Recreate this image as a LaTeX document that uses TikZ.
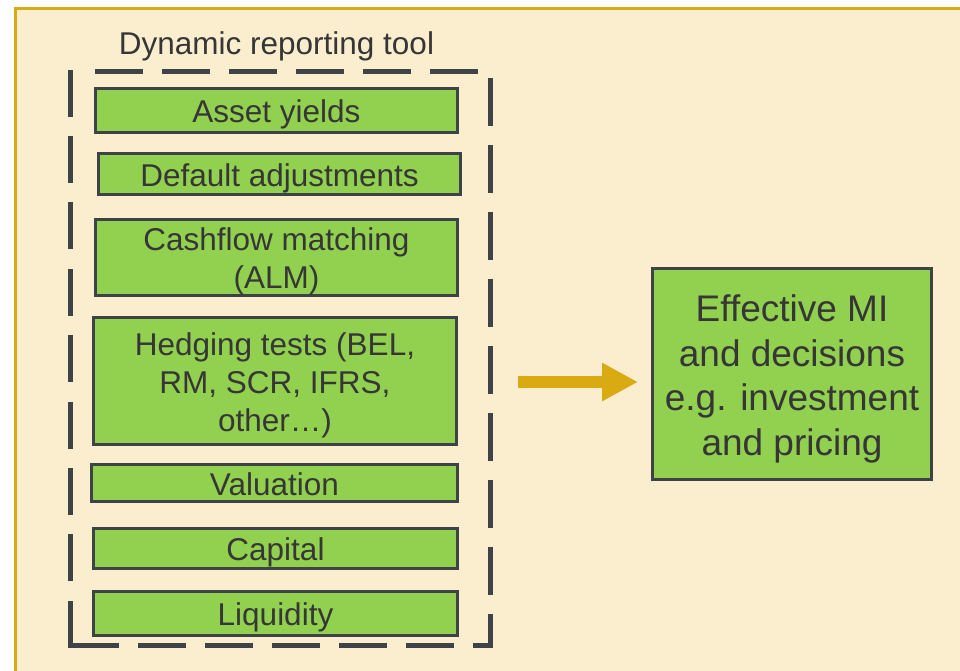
\documentclass[tikz,border=0pt]{standalone}
\usepackage{fontspec}
\setmainfont{Liberation Sans}
\usetikzlibrary{arrows.meta}
\definecolor{cream}{HTML}{FAEECE}
\definecolor{goldc}{HTML}{DAAA12}
\definecolor{edge}{HTML}{3E4347}
\definecolor{leaf}{HTML}{92D050}
\definecolor{ink}{HTML}{363636}
\newcommand{\ls}{\rule[-0.21em]{0pt}{1.2em}}
\tikzset{
  box/.style={draw=edge, fill=leaf, line width=3pt, inner sep=0pt, align=center, text=ink,
    font=\fontsize{31.5}{38}\selectfont},
  bigbox/.style={box, font=\fontsize{37}{44.5}\selectfont},
  dashline/.style={draw=edge, line width=5pt, dash pattern=on 48pt off 19pt},
  leftline/.style={draw=edge, line width=5pt, dash pattern=on 47pt off 19.4pt},
  bigarrow/.style={draw=goldc, line width=12pt, -{Triangle[length=36pt,width=36pt,fill=goldc]}}
}
\begin{document}
\begin{tikzpicture}[x=1pt,y=-1pt]
\useasboundingbox (0,0) rectangle (960,670);
\fill[white] (0,0) rectangle (960,670);
\draw[draw=goldc, fill=cream, line width=3pt] (15.5,8.5) rectangle (975,690);
\node[text=ink, font=\fontsize{31.5}{38}\selectfont] (title) at (276.5,42) {\ls Dynamic reporting tool};
% dashed frame of the tool
\node[inner sep=0pt, minimum width=419pt, minimum height=573pt] (tool) at (280.5,358.5) {};
\draw[dashline] ([xshift=24pt]tool.north west) -- (tool.north east) -- (tool.south east) -- (tool.south west);
\draw[leftline] ([yshift=-2.5pt]tool.south west) -- ([yshift=2.5pt]tool.north west);
% boxes
\node[box, minimum width=362pt, minimum height=44pt] (b1) at (276.5,110.5) {\ls Asset yields};
\node[box, minimum width=362pt, minimum height=41pt] (b2) at (279.5,174) {\ls Default adjustments};
\node[box, minimum width=362pt, minimum height=72pt] (b3) at (276.5,257.5) {\ls Cashflow matching\\\ls(ALM)};
\node[box, minimum width=363pt, minimum height=127pt] (b4) at (275,381) {\ls Hedging tests (BEL,\\\ls RM, SCR, IFRS,\\\ls other…)};
\node[box, minimum width=366pt, minimum height=37pt] (b5) at (274.5,483) {\ls Valuation};
\node[box, minimum width=364pt, minimum height=40pt] (b6) at (275.5,548.5) {\ls Capital};
\node[box, minimum width=364pt, minimum height=44pt] (b7) at (275.5,613.5) {\ls Liquidity};
\node[bigbox, minimum width=279pt, minimum height=211pt] (mi) at (792,374) {\ls Effective MI\\\ls and decisions\\\ls e.g. investment\\\ls and pricing};
\coordinate (a1) at (518,382);
\coordinate (a2) at (638,382);
\draw[bigarrow] (a1) -- (a2);
\end{tikzpicture}
\end{document}
